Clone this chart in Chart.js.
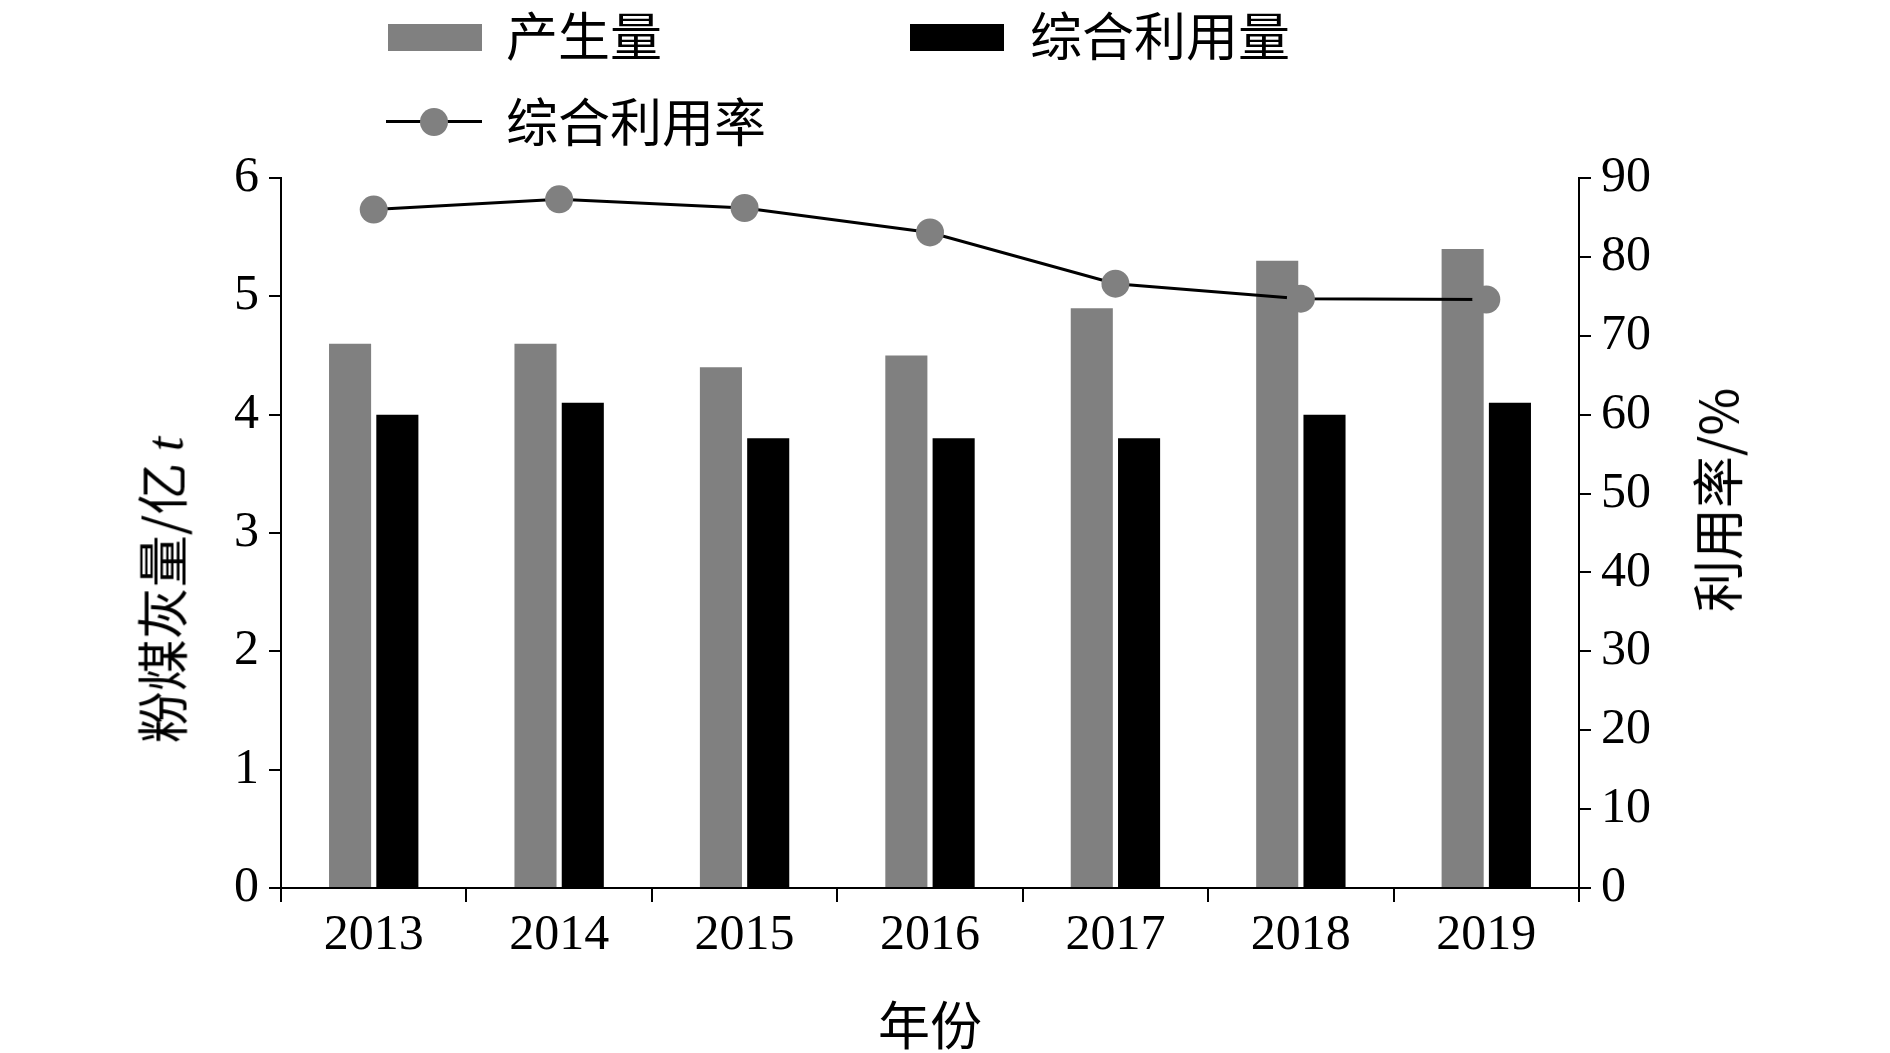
<!DOCTYPE html>
<html><head><meta charset="utf-8">
<script src="https://cdn.jsdelivr.net/npm/chart.js@4"></script>
<style>
body{margin:0;background:#fff;width:1890px;height:1053px;overflow:hidden;position:relative;font-family:"Noto Sans CJK SC",serif}
#c{position:absolute;left:0;top:0}
.t{position:absolute;font-size:52px;color:#000;white-space:nowrap;line-height:1}
.sw{position:absolute}
</style></head><body>
<canvas id="c" width="1890" height="1053"></canvas>
<div class="sw" style="left:388px;top:24px;width:94px;height:27px;background:#808080"></div>
<div class="t" style="left:506px;top:8px">产生量</div>
<div class="sw" style="left:910px;top:24px;width:94px;height:27px;background:#000"></div>
<div class="t" style="left:1030px;top:8px">综合利用量</div>
<div class="sw" style="left:386px;top:120px;width:96px;height:3px;background:#000"></div>
<div class="sw" style="left:420px;top:108px;width:28px;height:28px;border-radius:50%;background:#808080"></div>
<div class="t" style="left:506px;top:94px">综合利用率</div>
<div class="t" style="left:163px;top:590px;transform:translate(-50%,-50%) rotate(-90deg)">粉煤灰量/亿 <i style="font-family:'Liberation Serif'">t</i></div>
<div class="t" style="left:1716px;top:500px;transform:translate(-50%,-50%) rotate(-90deg)">利用率/%</div>
<div class="t" style="left:930px;top:997px;transform:translateX(-50%)">年份</div>
<script>
const years = ['2013','2014','2015','2016','2017','2018','2019'];
const produced = [4.6, 4.6, 4.4, 4.5, 4.9, 5.3, 5.4];
const utilized = [4.0, 4.1, 3.8, 3.8, 3.8, 4.0, 4.1];
const rate = [86.0, 87.3, 86.2, 83.1, 76.6, 74.7, 74.6];

const tickFont = { family: 'Liberation Serif', size: 50 };
const axisGrid = { drawOnChartArea: false, color: '#000', tickLength: 12, lineWidth: 2 };
const border = { color: '#000', width: 2 };

new Chart(document.getElementById('c').getContext('2d'), {
    type: 'bar',
    data: {
        labels: years,
        datasets: [
            { type: 'line', data: rate, yAxisID: 'y2', borderColor: '#000', borderWidth: 3, pointRadius: 14, pointBackgroundColor: '#808080', pointBorderWidth: 0, order: 0 },
            { data: produced, backgroundColor: '#808080', yAxisID: 'y', barPercentage: 0.89, categoryPercentage: 0.51, order: 1 },
            { data: utilized, backgroundColor: '#000', yAxisID: 'y', barPercentage: 0.89, categoryPercentage: 0.51, order: 1 }
        ]
    },
    options: {
        responsive: false, animation: false,
        layout: { padding: { top: 178 } },
        plugins: { legend: { display: false }, tooltip: { enabled: false } },
        scales: {
            x: { grid: { ...axisGrid, offset: true, tickLength: 14 }, border, ticks: { font: tickFont, color: '#000', padding: 4 },
                 afterFit: s => { s.height = 165; } },
            y: { position: 'left', min: 0, max: 6, grid: axisGrid, border, ticks: { stepSize: 1, font: tickFont, color: '#000', padding: 10 },
                 afterFit: s => { s.width = 281; } },
            y2: { position: 'right', min: 0, max: 90, grid: axisGrid, border, ticks: { stepSize: 10, font: tickFont, color: '#000', padding: 10 },
                 afterFit: s => { s.width = 311; } }
        }
    }
});
</script>
</body></html>
